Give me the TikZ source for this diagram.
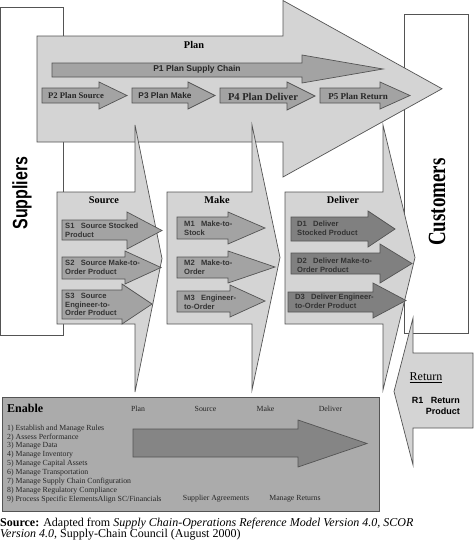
\documentclass[tikz,border=0pt]{standalone}
\usepackage{fontspec}
\setmainfont{Liberation Serif}
\setsansfont{Liberation Sans}

\definecolor{lightbg}{gray}{0.83}
\definecolor{midarr}{gray}{0.64}
\definecolor{darkarr}{gray}{0.50}
\definecolor{enablebg}{gray}{0.67}
\definecolor{enablearr}{gray}{0.52}
\definecolor{edge}{gray}{0.33}

% block arrow: style, left x, shaft top, shaft bottom, head x, head top, head bottom, tip x
\newcommand{\blockarrow}[8]{%
  \draw[#1] (#2,#3) -- (#5,#3) -- (#5,#6) -- (#8,{(#6+#7)/2}) -- (#5,#7) -- (#5,#4) -- (#2,#4) -- cycle;}

\begin{document}
\begin{tikzpicture}[x=1pt, y=-1pt,
    box/.style={draw=edge, fill=white, line width=0.8pt},
    big/.style={draw=edge, fill=lightbg, line width=0.7pt},
    sub/.style={draw=edge, fill=midarr, line width=0.7pt},
    dsub/.style={draw=edge, fill=darkarr, line width=0.7pt},
    title/.style={font=\bfseries\fontsize{10.3}{12}\selectfont, inner sep=0pt},
    lbl/.style={font=\sffamily\bfseries\fontsize{7.6}{8.8}\selectfont, align=left, anchor=west, inner sep=0pt, text=black!80},
    plbl/.style={font=\bfseries\fontsize{8.6}{10}\selectfont, inner sep=0pt, text=black!85},
    item/.style={font=\fontsize{7.8}{8.9}\selectfont, inner sep=0pt, text=black!85}
  ]
  \useasboundingbox (0,0) rectangle (474,554);

  % Suppliers and Customers
  \draw[box] (0.5,7) rectangle (63,335);
  \draw[box] (404,14) rectangle (468,333);
  \node[rotate=90, font=\sffamily\bfseries\fontsize{16}{16}\selectfont] (sup) at (22,193) {\scalebox{1}[1.3]{Suppliers}};
  \node[rotate=90, font=\bfseries\fontsize{19}{19}\selectfont] (cust) at (437,202) {\scalebox{1}[1.3]{Customers}};

  % Plan (top)
  \blockarrow{big}{37}{36}{142}{283}{0.5}{177}{442}
  \blockarrow{sub}{52}{63}{77}{302}{55}{83}{383}
  \blockarrow{sub}{42}{88}{103}{99}{82}{109}{127}
  \blockarrow{sub}{132}{88}{103}{188}{82}{109}{215}
  \blockarrow{sub}{220}{88}{103}{287}{82}{110}{315}
  \blockarrow{sub}{320}{88}{103}{380}{82}{109}{410}
  \node[title] (plan) at (194,45) {Plan};
  \node[font=\sffamily\bfseries\fontsize{8.5}{10}\selectfont, inner sep=0pt, text=black!85] (p1) at (197,69) {P1 Plan Supply Chain};
  \node[plbl] (p2) at (76,96) {P2 Plan Source};
  \node[font=\sffamily\bfseries\fontsize{8.3}{10}\selectfont, inner sep=0pt, text=black!85] (p3) at (165,96) {P3 Plan Make};
  \node[plbl, font=\bfseries\fontsize{10.5}{12}\selectfont] (p4) at (263,97) {P4 Plan Deliver};
  \node[plbl, font=\bfseries\fontsize{9}{10}\selectfont] (p5) at (358,96) {P5 Plan Return};

  % Source, Make, Deliver (middle)
  \blockarrow{big}{57}{192}{324}{135}{125}{392}{162}
  \blockarrow{big}{167}{192}{324}{252}{125}{390}{280}
  \blockarrow{big}{285}{192}{324}{383}{125}{390}{415}
  \blockarrow{sub}{62}{220}{240}{127}{212}{249}{162}
  \blockarrow{sub}{62}{257}{279}{125}{251}{284}{161}
  \blockarrow{sub}{62}{290}{319}{122}{284}{324}{152}
  \blockarrow{sub}{177}{217}{239}{228}{212}{244}{265}
  \blockarrow{sub}{177}{257}{278}{228}{251}{283}{275}
  \blockarrow{sub}{177}{291}{312}{230}{285}{317}{265}
  \blockarrow{dsub}{291}{217}{241}{368}{211}{247}{395}
  \blockarrow{dsub}{291}{253}{274}{380}{244}{283}{412}
  \blockarrow{dsub}{288}{292}{312}{373}{283}{318}{406}
  \node[title] (src) at (104,200) {Source};
  \node[title] (mk) at (217,200) {Make};
  \node[title] (dlv) at (343,200) {Deliver};
  \node[lbl] (s1) at (65,230.5) {S1~~~Source Stocked\\Product};
  \node[lbl] (s2) at (65,267.5) {S2~~~Source Make-to-\\Order Product};
  \node[lbl] (s3) at (65,304.5) {S3~~~Source\\Engineer-to-\\Order Product};
  \node[lbl] (m1) at (184,228.5) {M1~~~Make-to-\\Stock};
  \node[lbl] (m2) at (184,267.5) {M2~~~Make-to-\\Order};
  \node[lbl] (m3) at (184,302) {M3~~~Engineer-\\to-Order};
  \node[lbl] (d1) at (297,228.5) {D1~~~Deliver\\Stocked Product};
  \node[lbl] (d2) at (297,265.5) {D2~~~Deliver Make-to-\\Order Product};
  \node[lbl] (d3) at (295,301.5) {D3~~~Deliver Engineer-\\to-Order Product};

  % Return
  \blockarrow{big}{473}{353}{428}{413}{318}{465}{394}
  \node[font=\fontsize{12}{12}\selectfont, inner sep=0pt] (ret) at (426,378) {\underline{Return}};
  \node[font=\sffamily\bfseries\fontsize{9}{11}\selectfont, align=right, anchor=east, inner sep=0pt] (r1) at (460,405.5) {R1~~~Return\\Product};

  % Enable (bottom)
  \draw[draw=edge, fill=enablebg, line width=0.8pt] (2,397) rectangle (379,511);
  \blockarrow{dsub, fill=enablearr}{133}{429}{457}{298}{420}{467}{367}
  \node[font=\bfseries\fontsize{12}{12}\selectfont, anchor=west, inner sep=0pt] (en) at (7,408) {Enable};
  \node[item] (eplan) at (138,409) {Plan};
  \node[item] (esrc) at (205.5,409) {Source};
  \node[item] (emk) at (265.5,409) {Make};
  \node[item] (edlv) at (330.5,409) {Deliver};
  \node[item, anchor=north west, align=left] (list) at (7,424.5) {1) Establish and Manage Rules\\2) Assess Performance\\3) Manage Data\\4) Manage Inventory\\5) Manage Capital Assets\\6) Manage Transportation\\7) Manage Supply Chain Configuration\\8) Manage Regulatory Compliance\\9) Process Specific ElementsAlign SC/Financials};
  \node[item] (agree) at (216,499) {Supplier Agreements};
  \node[item] (mret) at (295,499) {Manage Returns};

  % Source note
  \node[font=\fontsize{12}{11}\selectfont, anchor=north west, align=left, inner sep=0pt] (cap) at (0,517.5) {\textbf{Source:} Adapted from \textit{Supply Chain-Operations Reference Model Version 4.0, SCOR}\\\textit{Version 4.0}, Supply-Chain Council (August 2000)};
\end{tikzpicture}
\end{document}
